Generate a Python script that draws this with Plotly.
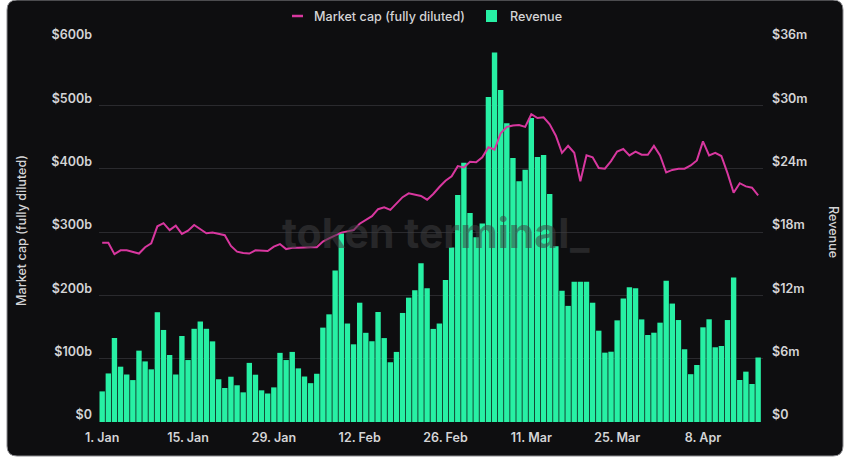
import pandas as pd
import plotly.graph_objects as go

# ---------------- data ----------------
start_date = "2024-01-01"
n_days = 108
dates = pd.date_range(start_date, periods=n_days, freq="D")

revenue_m = [
    2.9, 4.6, 7.96, 5.24, 4.5, 3.97, 6.76, 5.74, 4.99, 10.4,
    8.72, 6.35, 4.5, 8.15, 5.87, 8.83, 9.52, 8.83, 7.64, 4.05,
    3.22, 4.29, 3.48, 2.81, 5.6, 4.48, 3.0, 2.7, 3.28, 6.55,
    5.87, 6.64, 5.08, 4.31, 3.68, 4.57, 8.94, 10.2, 14.35, 17.85,
    9.33, 7.36, 11.3, 8.45, 7.65, 10.42, 7.95, 5.66, 6.64, 10.33,
    11.78, 12.47, 15.05, 12.68, 8.82, 9.33, 13.45, 16.52, 21.5, 24.57,
    19.8, 17.5, 18.8, 30.8, 35.0, 31.45, 28.3, 25.0, 22.8, 23.9,
    28.8, 25.1, 25.3, 21.6, 16.65, 12.43, 11.0, 13.28, 13.28, 13.28,
    11.3, 8.65, 6.57, 6.66, 9.63, 11.7, 12.76, 12.68, 9.72, 8.24,
    8.46, 9.41, 13.39, 11.22, 9.66, 6.89, 4.53, 5.4, 8.97, 9.73,
    7.08, 7.2, 9.66, 13.68, 3.98, 4.77, 3.6, 6.11,
]

market_cap_b = [
    283, 283, 265, 271, 271, 269, 266, 276, 282, 309,
    314, 303, 310, 297, 302, 311, 304, 298, 299, 297,
    295, 278, 269, 267, 266, 271, 271, 270, 277, 281,
    273, 275, 275, 276, 276, 276, 285, 290, 294, 299,
    301, 303, 313, 319, 325, 336, 339, 335, 345, 355,
    361, 359, 357, 351, 360, 371, 381, 388, 404, 402,
    411, 410, 418, 434, 430, 456, 466, 468, 469, 466,
    486, 480, 481, 470, 452, 425, 436, 425, 380, 421,
    418, 401, 400, 412, 427, 431, 421, 427, 422, 422,
    436, 421, 394, 398, 400, 400, 405, 413, 443, 421,
    425, 420, 393, 362, 377, 372, 370, 358,
]

x_tick_vals = ["2024-01-01", "2024-01-15", "2024-01-29", "2024-02-12",
               "2024-02-26", "2024-03-11", "2024-03-25", "2024-04-08"]
x_tick_text = ["1. Jan", "15. Jan", "29. Jan", "12. Feb",
               "26. Feb", "11. Mar", "25. Mar", "8. Apr"]

mcap_tick_vals = [0, 100, 200, 300, 400, 500, 600]
mcap_tick_text = ["$0", "$100b", "$200b", "$300b", "$400b", "$500b", "$600b"]
rev_tick_vals = [0, 6, 12, 18, 24, 30, 36]
rev_tick_text = ["$0", "$6m", "$12m", "$18m", "$24m", "$30m", "$36m"]

series_names = ["Market cap (fully diluted)", "Revenue"]

# ---------------- styling ----------------
W, H = 852, 459
ML, MR, MT, MB = 99, 89, 42, 37
PW, PH = W - ML - MR, H - MT - MB

LINE_COLOR = "#d8379f"
BAR_COLOR = "#27f0a4"
CARD = "#0e0e10"
GRID = "#2a2a2e"
TXT = "#d4d4d6"
FONT = "Inter"


def px(x):
    return (x - ML) / PW


def py(y):
    return (H - MB - y) / PH


fig = go.Figure()
fig.add_trace(go.Bar(
    x=dates, y=revenue_m, name=series_names[1], yaxis="y",
    marker=dict(color=BAR_COLOR, line=dict(width=0)),
    showlegend=False,
))
fig.add_trace(go.Scatter(
    x=dates, y=market_cap_b, name=series_names[0], yaxis="y2",
    mode="lines", line=dict(color=LINE_COLOR, width=2),
    showlegend=False,
))

# rounded card path
L, R, T, B, rad = 7, 843, 0, 456, 10
rx, ry = rad / PW, rad / PH
card_path = (
    f"M {px(L)+rx},{py(T)} L {px(R)-rx},{py(T)} Q {px(R)},{py(T)} {px(R)},{py(T)-ry} "
    f"L {px(R)},{py(B)+ry} Q {px(R)},{py(B)} {px(R)-rx},{py(B)} "
    f"L {px(L)+rx},{py(B)} Q {px(L)},{py(B)} {px(L)},{py(B)+ry} "
    f"L {px(L)},{py(T)-ry} Q {px(L)},{py(T)} {px(L)+rx},{py(T)} Z"
)
shapes = [
    dict(type="path", xref="paper", yref="paper", path=card_path,
         fillcolor=CARD, line=dict(color="#8a8a8e", width=1), layer="below"),
    # legend symbols
    dict(type="line", xref="paper", yref="paper",
         x0=px(292), x1=px(303), y0=py(16), y1=py(16),
         line=dict(color=LINE_COLOR, width=2.5)),
    dict(type="rect", xref="paper", yref="paper",
         x0=px(486), x1=px(497), y0=py(10), y1=py(22),
         fillcolor=BAR_COLOR, line=dict(width=0)),
]

LABEL_FONT = dict(family=FONT, size=12.6, color=TXT, weight=500)

annotations = [
    dict(text="token terminal_", xref="paper", yref="paper",
         x=px(436), y=py(233), showarrow=False,
         font=dict(family=FONT, size=41, color="rgba(62,62,64,0.55)", weight=700)),
    dict(text=series_names[0], xref="paper", yref="paper",
         x=px(312), y=py(16), xanchor="left", yanchor="middle", showarrow=False,
         font=LABEL_FONT),
    dict(text=series_names[1], xref="paper", yref="paper",
         x=px(508), y=py(16), xanchor="left", yanchor="middle", showarrow=False,
         font=LABEL_FONT),
    dict(text="Market cap (fully diluted)", xref="paper", yref="paper",
         x=px(21), y=py(231), textangle=-90, showarrow=False,
         xanchor="center", yanchor="middle", font=LABEL_FONT),
    dict(text="Revenue", xref="paper", yref="paper",
         x=px(834), y=py(232), textangle=90, showarrow=False,
         xanchor="center", yanchor="middle", font=LABEL_FONT),
]

tickfont = dict(family=FONT, size=12.5, color=TXT, weight=600)

fig.update_layout(
    width=W, height=H,
    margin=dict(l=ML, r=MR, t=MT, b=MB),
    paper_bgcolor="white",
    plot_bgcolor="rgba(0,0,0,0)",
    bargap=0.12,
    showlegend=False,
    shapes=shapes,
    annotations=annotations,
    xaxis=dict(
        type="date",
        range=["2023-12-31 11:30", "2024-04-17 19:00"],
        tickvals=x_tick_vals, ticktext=x_tick_text,
        showgrid=False, zeroline=False, showline=False,
        ticks="", tickfont=tickfont, ticklabelstandoff=6,
    ),
    yaxis=dict(
        side="right", range=[0, 36],
        tickvals=rev_tick_vals, ticktext=rev_tick_text,
        showgrid=True, gridcolor=GRID, gridwidth=1.2,
        zeroline=False, showline=False, ticks="",
        tickfont=tickfont, ticklabelshift=-7, ticklabelstandoff=8,
    ),
    yaxis2=dict(
        side="left", overlaying="y", range=[0, 600],
        tickvals=mcap_tick_vals, ticktext=mcap_tick_text,
        showgrid=False, zeroline=False, showline=False, ticks="",
        tickfont=tickfont, ticklabelshift=-7, ticklabelstandoff=6,
    ),
)

fig.write_html("out.html")
